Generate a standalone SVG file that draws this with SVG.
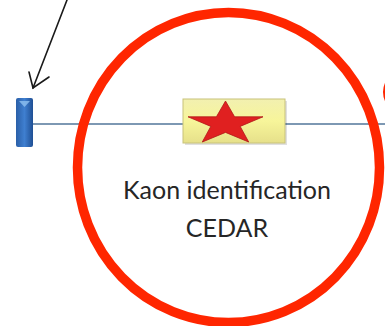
<svg xmlns="http://www.w3.org/2000/svg" width="385" height="326" viewBox="0 0 385 326">
<defs>
<linearGradient id="blueG" x1="0" y1="0" x2="1" y2="0">
<stop offset="0" stop-color="#2a5fa8"/>
<stop offset="0.5" stop-color="#3f7fd0"/>
<stop offset="1" stop-color="#1f4f94"/>
</linearGradient>
<linearGradient id="yelG" x1="0" y1="0" x2="0" y2="1">
<stop offset="0" stop-color="#f2f0b0"/>
<stop offset="0.5" stop-color="#f7f59a"/>
<stop offset="1" stop-color="#e6e08a"/>
</linearGradient>
<style>
.red{fill:none;stroke:#ff2600;}
.lbl{font-family:Lato,"Open Sans",sans-serif;font-size:25px;fill:#262626;text-anchor:middle;}
</style>
</defs>
<g id="connectors">
<line x1="33" y1="124" x2="385" y2="124" stroke="#7d98b3" stroke-width="2"/>
<g stroke="#1a1a1a" stroke-width="1.6" fill="none" stroke-linecap="round">
<line x1="67" y1="0" x2="33" y2="88"/>
<polyline points="29,72 33,88 49,77"/>
</g>
</g>
<g id="detector-left">
<rect x="16" y="98" width="17" height="49" rx="2" fill="url(#blueG)"/>
<polygon points="19,101 30,101 24.5,107" fill="#8fc0f0" opacity="0.8"/>
</g>
<g id="cedar">
<rect x="185" y="101" width="102" height="44" fill="#000" opacity="0.12"/>
<rect x="183" y="99" width="102" height="44" fill="url(#yelG)" stroke="#c8c27a" stroke-width="1"/>
<polygon fill="#e02020" stroke="#b01818" stroke-width="0.8" points="225.5,101 234.6,116.8 263,116.8 240.2,126.4 248.7,142 225.5,132.4 202.3,142 210.8,126.4 188,116.8 216.4,116.8"/>
</g>
<g id="highlight">
<ellipse class="red" cx="228.5" cy="167.5" rx="151" ry="155" stroke-width="9.5"/>
<path class="red" d="M387 82 Q382 92 387 102" stroke-width="3"/>
</g>
<g id="labels">
<text class="lbl" x="227" y="199">Kaon identification</text>
<text class="lbl" x="227" y="237">CEDAR</text>
</g>
</svg>
